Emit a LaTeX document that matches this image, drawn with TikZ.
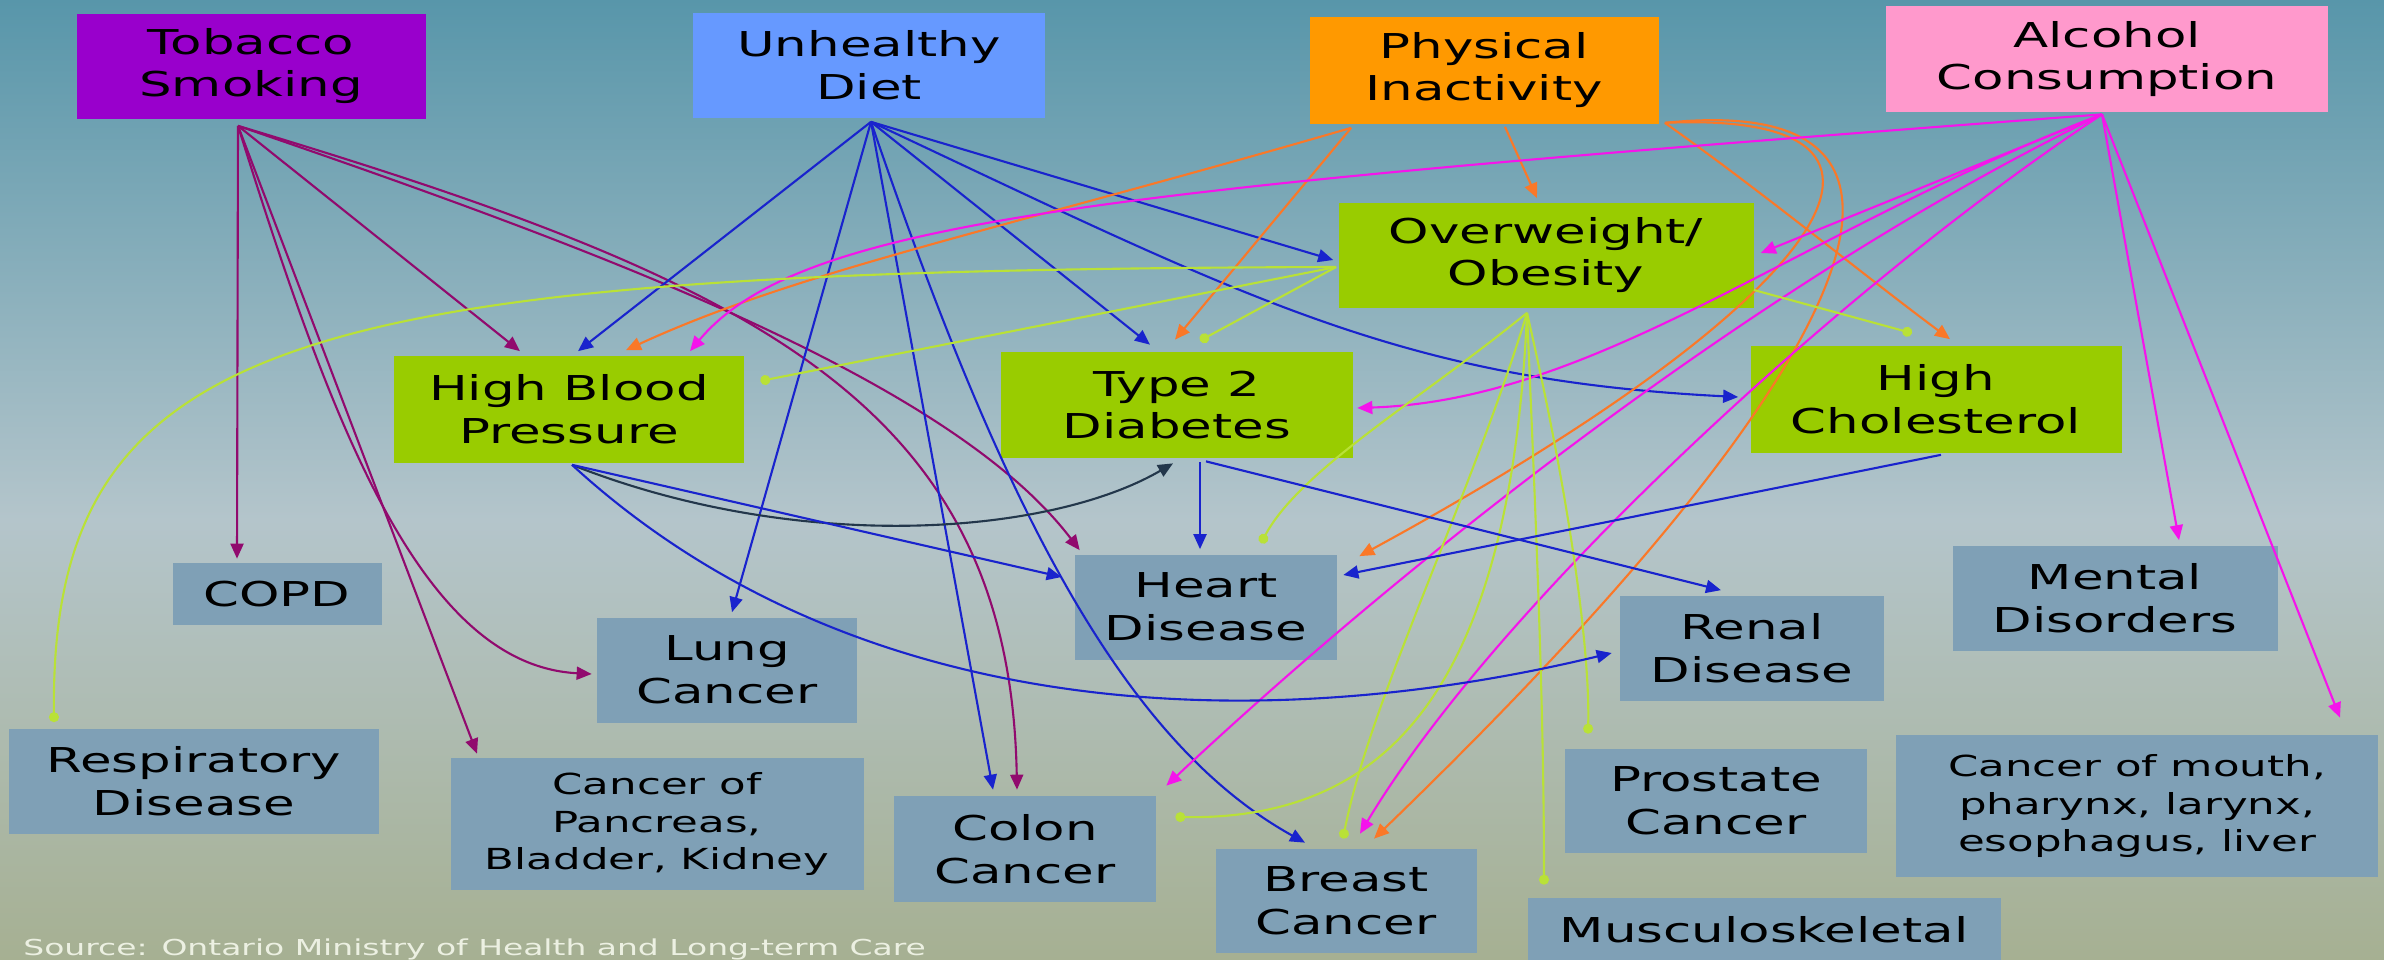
\documentclass[tikz,border=0pt]{standalone}
\usepackage{fontspec}
\usetikzlibrary{arrows.meta,calc}
\newfontfamily\boxfont[FakeStretch=1.5]{DejaVu Sans}
\definecolor{bgtop}{RGB}{88,150,170}
\definecolor{bgmid}{RGB}{180,197,203}
\definecolor{bgbot}{RGB}{166,176,146}
\definecolor{tobcol}{RGB}{153,0,204}
\definecolor{dietcol}{RGB}{102,153,255}
\definecolor{physcol}{RGB}{255,153,0}
\definecolor{alccol}{RGB}{255,153,204}
\definecolor{midcol}{RGB}{153,204,0}
\definecolor{outcol}{RGB}{127,160,182}
\definecolor{tobarrow}{RGB}{145,10,110}
\definecolor{dietarrow}{RGB}{25,35,205}
\definecolor{physarrow}{RGB}{250,120,40}
\definecolor{alcarrow}{RGB}{245,20,235}
\definecolor{obesarrow}{RGB}{185,225,55}
\definecolor{slatearrow}{RGB}{35,55,75}
\definecolor{srctext}{RGB}{236,240,226}

\begin{document}
\begin{tikzpicture}[x=0.02cm, y=-0.02cm,
    riskbox/.style={fill=#1, inner sep=0pt, align=center,
      font=\boxfont\fontsize{19.5}{24.4}\selectfont},
    smallbox/.style={riskbox=#1, font=\boxfont\fontsize{16.5}{21.6}\selectfont},
    boxsize/.style 2 args={minimum width=#1*0.02cm, minimum height=#2*0.02cm},
    link/.style={line width=1.2pt, -{Triangle[length=0.3cm,width=0.26cm]}},
    tobline/.style={link, draw=tobarrow},
    dietline/.style={link, draw=dietarrow},
    physline/.style={link, draw=physarrow},
    alcline/.style={link, draw=alcarrow},
    slateline/.style={link, draw=slatearrow},
    obesline/.style={line width=1.2pt, draw=obesarrow, -{Circle[length=0.2cm]}}]

  \useasboundingbox (0,0) rectangle (2384,960);
  \begin{scope}
    \clip (0,0) rectangle (2384,960);
    \shade[top color=bgtop, bottom color=bgmid] (0,0) rectangle (2384,520);
    \shade[top color=bgmid, bottom color=bgbot] (0,519) rectangle (2384,960);
    \node[anchor=base west, text=srctext, inner sep=0pt,
          font=\boxfont\fontsize{12.5}{15}\selectfont] (src) at (23,955)
         {Source: Ontario Ministry of Health and Long-term Care};
  \end{scope}

  % risk factors
  \node[riskbox=tobcol, boxsize={349}{105}] (tob) at (251,66) {Tobacco\\Smoking};
  \node[riskbox=dietcol, boxsize={352}{105}] (diet) at (869,65) {Unhealthy\\Diet};
  \node[riskbox=physcol, boxsize={349}{107}] (phys) at (1484,70) {Physical\\Inactivity};
  \node[riskbox=alccol, boxsize={442}{106}] (alc) at (2107,59) {Alcohol\\Consumption};

  % intermediate conditions
  \node[riskbox=midcol, boxsize={415}{105}] (obes) at (1546,255) {Overweight/\\Obesity};
  \node[riskbox=midcol, boxsize={350}{107}] (hbp) at (569,409) {High Blood\\Pressure};
  \node[riskbox=midcol, boxsize={352}{106}] (tdb) at (1177,405) {Type 2\\Diabetes};
  \node[riskbox=midcol, boxsize={371}{107}] (chol) at (1936,399) {High\\Cholesterol};

  % outcomes
  \node[riskbox=outcol, boxsize={209}{62}] (copd) at (277,594) {COPD};
  \node[riskbox=outcol, boxsize={260}{105}] (lung) at (727,670) {Lung\\Cancer};
  \node[riskbox=outcol, boxsize={370}{105}] (resp) at (194,781) {Respiratory\\Disease};
  \node[smallbox=outcol, boxsize={413}{132}] (panc) at (657,824) {Cancer of\\Pancreas,\\Bladder, Kidney};
  \node[riskbox=outcol, boxsize={262}{106}] (colon) at (1025,849) {Colon\\Cancer};
  \node[riskbox=outcol, boxsize={262}{105}] (heart) at (1206,607) {Heart\\Disease};
  \node[riskbox=outcol, boxsize={264}{105}] (renal) at (1752,648) {Renal\\Disease};
  \node[riskbox=outcol, boxsize={325}{105}] (mental) at (2115,598) {Mental\\Disorders};
  \node[riskbox=outcol, boxsize={302}{104}] (prost) at (1716,801) {Prostate\\Cancer};
  \node[smallbox=outcol, boxsize={482}{142}] (mouth) at (2137,806) {Cancer of mouth,\\pharynx, larynx,\\esophagus, liver};
  \node[riskbox=outcol, boxsize={261}{104}] (breast) at (1346,901) {Breast\\Cancer};
  \node[riskbox=outcol, boxsize={473}{64}] (musc) at (1764,930) {Musculoskeletal};

  % fan points
  \coordinate (tobfan) at ($(tob.south)+(-13,7)$);
  \coordinate (dietfan) at ($(diet.south)+(2,4)$);
  \coordinate (physL) at ($(phys.south west)+(42,4)$);
  \coordinate (physM) at ($(phys.south)+(21,3)$);
  \coordinate (physR) at ($(phys.south east)+(6,-1)$);
  \coordinate (alcfan) at ($(alc.south)+(-5,2)$);
  \coordinate (obesL) at ($(obes.west)+(-2,12)$);
  \coordinate (obesB) at ($(obes.south)+(-19,5)$);
  \coordinate (obesR) at ($(obes.east)+(0,35)$);
  \coordinate (hbpfan) at ($(hbp.south)+(3,2)$);
  \coordinate (cholfan) at ($(chol.south)+(5,2)$);

  % tobacco
  \draw[tobline] (tobfan) -- ($(copd.north)+(-40,-4)$);
  \draw[tobline] (tobfan) -- ($(hbp.north)+(-49,-4)$);
  \draw[tobline] (tobfan) -- ($(panc.north)+(-180,-4)$);
  \draw[tobline] (tobfan) .. controls (330,420) and (420,665) .. ($(lung.west)+(-5,4)$);
  \draw[tobline] (tobfan) .. controls (600,250) and (950,380) .. ($(heart.north west)+(5,-4)$);
  \draw[tobline] (tobfan) .. controls (750,280) and (1010,400) .. ($(colon.north)+(-8,-6)$);

  % diet
  \draw[dietline] (dietfan) -- ($(hbp.north)+(9,-4)$);
  \draw[dietline] (dietfan) -- ($(lung.north)+(5,-5)$);
  \draw[dietline] (dietfan) -- ($(colon.north)+(-32,-6)$);
  \draw[dietline] (dietfan) .. controls (1000,500) and (1120,740) .. ($(breast.north)+(-41,-6)$);
  \draw[dietline] (dietfan) -- ($(tdb.north)+(-27,-7)$);
  \draw[dietline] (dietfan) -- ($(obes.west)+(-5,5)$);
  \draw[dietline] (dietfan) .. controls (1250,300) and (1400,380) .. ($(chol.west)+(-12,-2)$);

  % physical inactivity
  \draw[physline] (physL) .. controls (1000,230) and (800,270) .. ($(hbp.north)+(57,-5)$);
  \draw[physline] (physL) -- ($(tdb.north)+(-2,-12)$);
  \draw[physline] (physM) -- ($(obes.north)+(-9,-4)$);
  \draw[physline] (physR) .. controls (1760,190) and (1870,280) .. ($(chol.north)+(14,-6)$);
  \draw[physline] (physR) .. controls (1960,110) and (1830,300) .. ($(heart.north east)+(22,2)$);
  \draw[physline] (physR) .. controls (1980,90) and (1870,360) .. ($(breast.north)+(28,-10)$);

  % alcohol
  \draw[alcline] (alcfan) .. controls (1100,190) and (800,220) .. ($(hbp.north)+(121,-4)$);
  \draw[alcline] (alcfan) -- ($(obes.east)+(7,-2)$);
  \draw[alcline] (alcfan) .. controls (1800,230) and (1600,400) .. ($(tdb.east)+(4,3)$);
  \draw[alcline] (alcfan) .. controls (1800,260) and (1450,520) .. ($(colon.north east)+(10,-10)$);
  \draw[alcline] (alcfan) .. controls (1850,280) and (1500,600) .. ($(breast.north)+(14,-15)$);
  \draw[alcline] (alcfan) -- ($(mental.north)+(64,-5)$);
  \draw[alcline] (alcfan) -- ($(mouth.north)+(203,-17)$);

  % overweight / obesity
  \draw[obesline] (obesL) .. controls (300,270) and (50,330) .. ($(resp.north)+(-140,-6)$);
  \draw[obesline] (obesL) -- ($(hbp.east)+(16,-28)$);
  \draw[obesline] (obesL) -- ($(tdb.north)+(23,-11)$);
  \draw[obesline] (obesB) .. controls (1420,400) and (1300,470) .. ($(heart.north)+(55,-11)$);
  \draw[obesline] (obesB) .. controls (1510,700) and (1380,820) .. ($(colon.east)+(19,-32)$);
  \draw[obesline] (obesB) .. controls (1470,500) and (1370,700) .. ($(breast.north)+(-3,-10)$);
  \draw[obesline] (obesB) .. controls (1570,500) and (1590,650) .. ($(prost.north)+(-128,-15)$);
  \draw[obesline] (obesB) .. controls (1535,500) and (1544,700) .. ($(musc.north)+(-220,-13)$);
  \draw[obesline] (obesR) -- ($(chol.north)+(-24,-12)$);

  % conditions to diseases
  \draw[slateline] (hbpfan) .. controls (800,555) and (1050,535) .. ($(tdb.south)+(-4,5)$);
  \draw[dietline] (hbpfan) -- ($(heart.west)+(-13,-30)$);
  \draw[dietline] (hbpfan) .. controls (850,720) and (1250,740) .. ($(renal.west)+(-8,5)$);
  \draw[dietline] ($(tdb.south)+(23,4)$) -- ($(heart.north)+(-6,-5)$);
  \draw[dietline] ($(tdb.south)+(29,3)$) -- ($(renal.north)+(-31,-5)$);
  \draw[dietline] (cholfan) -- ($(heart.east)+(6,-32)$);
\end{tikzpicture}
\end{document}
